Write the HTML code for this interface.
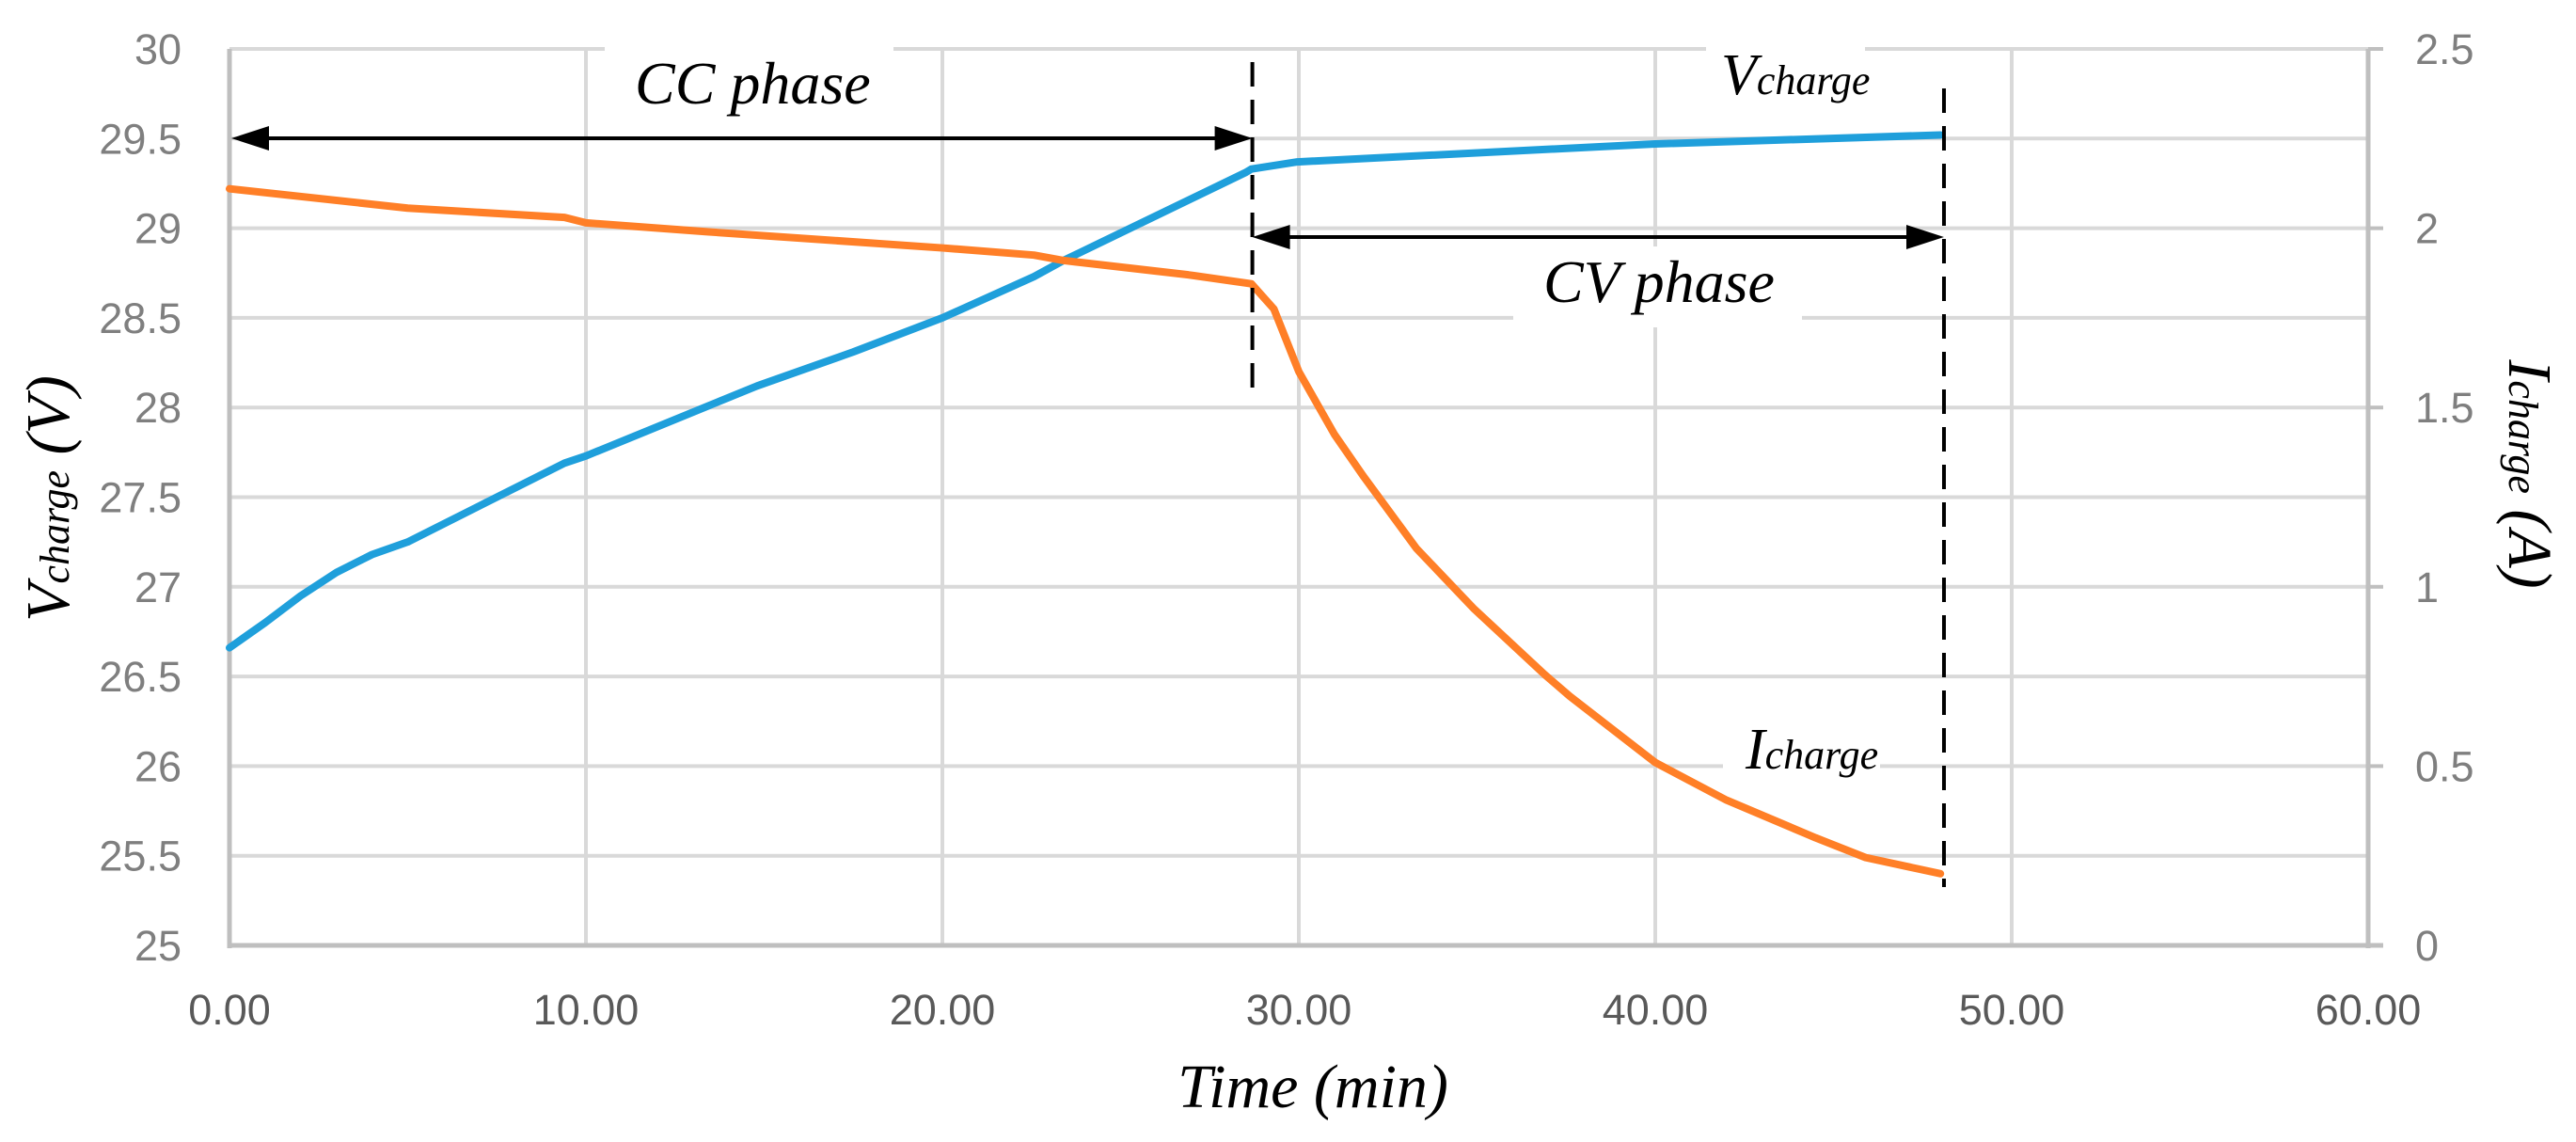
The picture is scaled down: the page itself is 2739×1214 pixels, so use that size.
<!DOCTYPE html>
<html><head><meta charset="utf-8"><style>
html,body{margin:0;padding:0;background:#fff;}
svg{display:block;}
.tick{font-family:"Liberation Sans",sans-serif;font-size:45px;fill:#7f7f7f;}
.xtick{font-family:"Liberation Sans",sans-serif;font-size:45px;fill:#595959;}
.ann{font-family:"Liberation Serif",serif;font-style:italic;fill:#000;}
</style></head><body>
<svg id="chart" width="2739" height="1214" viewBox="0 0 2739 1214" xmlns="http://www.w3.org/2000/svg">
<g id="grid"></g>
<g id="axes"></g>
<g id="boxes"></g>
<g id="series"></g>
<g id="annot"></g>
<text class="ann" x="1396" y="1177" font-size="66" text-anchor="middle">Time (min)</text>
<text class="ann" transform="translate(73,530) rotate(-90)" font-size="66" text-anchor="middle">V<tspan font-size="44">charge</tspan> (V)</text>
<text class="ann" transform="translate(2668,504) rotate(90)" font-size="66" text-anchor="middle">I<tspan font-size="44">charge</tspan> (A)</text>
</svg>
<script>
const timeV = [0,1,2,3,4,5,7.2,9.4,10,14.8,17.5,20,22.57,23.4,28.5,28.67,29.96,40,48];
const voltage = [26.66,26.8,26.95,27.08,27.18,27.25,27.47,27.69,27.73,28.12,28.31,28.5,28.73,28.82,29.31,29.33,29.37,29.47,29.52];
const timeI = [0,5,9.4,10,13.4,20,22.57,23.4,26.9,28.67,29.3,30,31,31.8,33.3,34.9,36.9,37.6,40,42,44.5,45.9,48];
const current = [2.11,2.056,2.03,2.015,1.99,1.945,1.925,1.91,1.87,1.845,1.775,1.6,1.425,1.31,1.107,0.94,0.755,0.695,0.51,0.405,0.30,0.245,0.2];
const xTicks = [0,10,20,30,40,50,60];
const xTickLabels = ["0.00","10.00","20.00","30.00","40.00","50.00","60.00"];
const yLeftTicks = [25,25.5,26,26.5,27,27.5,28,28.5,29,29.5,30];
const yRightTickLabels = ["0","","0.5","","1","","1.5","","2","","2.5"];
const ccEnd = 28.67, cvEnd = 48.1;

const NS="http://www.w3.org/2000/svg";
const X0=244,X1=2518,Y0=1005,Y1=52;
const sx=t=>X0+(t-0)/60*(X1-X0);
const syL=v=>Y0-(v-25)/5*(Y0-Y1);
const syR=a=>Y0-a/2.5*(Y0-Y1);
function mk(tag,attrs,parent){const e=document.createElementNS(NS,tag);for(const k in attrs)e.setAttribute(k,attrs[k]);parent.appendChild(e);return e;}
const grid=document.getElementById('grid'),axes=document.getElementById('axes'),boxes=document.getElementById('boxes'),series=document.getElementById('series'),annot=document.getElementById('annot');

yLeftTicks.forEach((v,i)=>{
  const y=syL(v);
  const g=mk('line',{x1:X0,x2:X1,y1:y,y2:y,stroke:'#d9d9d9','stroke-width':4},grid);
  
  
  const t=mk('text',{x:193,y:y+16,'text-anchor':'end',class:'tick'},axes);
  t.textContent=String(v);
  
  
  if(yRightTickLabels[i]){
    const tk=mk('line',{x1:X1,x2:X1+16,y1:y,y2:y,stroke:'#bfbfbf','stroke-width':4},axes);
    
    
    const r=mk('text',{x:2568,y:y+16,'text-anchor':'start',class:'tick'},axes);
    r.textContent=yRightTickLabels[i];
    
    
  }
});
xTicks.forEach((t,i)=>{
  const x=sx(t);
  if(i>0&&i<xTicks.length-1){
    const g=mk('line',{x1:x,x2:x,y1:Y1,y2:Y0,stroke:'#d9d9d9','stroke-width':4},grid);
    
    
  }
  const l=mk('text',{x:x,y:1089,'text-anchor':'middle',class:'xtick'},axes);
  l.textContent=xTickLabels[i];
  
  
});
const la=mk('line',{x1:X0,x2:X0,y1:Y1,y2:Y0+3,stroke:'#bfbfbf','stroke-width':5},axes);


const ra=mk('line',{x1:X1,x2:X1,y1:Y1,y2:Y0+3,stroke:'#bfbfbf','stroke-width':5},axes);


const ba=mk('line',{x1:X0-2,x2:X1+16,y1:Y0,y2:Y0,stroke:'#bfbfbf','stroke-width':5},axes);



[[643,40,307,24],[1814,40,169,24],[1609,262,307,86],[1832,780,167,60]].forEach(b=>{
  const r=mk('rect',{x:b[0],y:b[1],width:b[2],height:b[3],fill:'#fff'},boxes);
  
  
});

const vp=mk('polyline',{points:timeV.map((t,i)=>sx(t)+','+syL(voltage[i])).join(' '),fill:'none',stroke:'#1f9fdb','stroke-width':8,'stroke-linejoin':'round','stroke-linecap':'round'},series);


const ip=mk('polyline',{points:timeI.map((t,i)=>sx(t)+','+syR(current[i])).join(' '),fill:'none',stroke:'#ff7f27','stroke-width':8,'stroke-linejoin':'round','stroke-linecap':'round'},series);



const xk=sx(ccEnd)+1, xe=sx(cvEnd);
const d1=mk('line',{x1:xk,x2:xk,y1:66,y2:412,stroke:'#000','stroke-width':4,'stroke-dasharray':'26,14'},annot);


const d2=mk('line',{x1:xe,x2:xe,y1:94,y2:943,stroke:'#000','stroke-width':4,'stroke-dasharray':'26,14'},annot);


function arrow(xa,xb,y,name){
  const g=mk('g',{},annot);
  
  
  mk('line',{x1:xa+30,x2:xb-30,y1:y,y2:y,stroke:'#000','stroke-width':4},g);
  mk('polygon',{points:`${xa},${y} ${xa+40},${y-13} ${xa+40},${y+13}`,fill:'#000'},g);
  mk('polygon',{points:`${xb},${y} ${xb-40},${y-13} ${xb-40},${y+13}`,fill:'#000'},g);
}
arrow(X0+2,xk,147,'cc-phase-arrow');
arrow(xk,xe,252,'cv-phase-arrow');
function label(txt,sub,x,y,size,name){
  const t=mk('text',{x:x,y:y,class:'ann','font-size':size},annot);
  
  
  t.textContent=txt;
  if(sub){const s=mk('tspan',{'font-size':44},t);s.textContent=sub;}
}
label('CC phase','',675,110,64,'cc-phase-label');
label('CV phase','',1641,321,64,'cv-phase-label');
label('V','charge',1830,100,62,'voltage-series-label');
label('I','charge',1856,817,62,'current-series-label');
</script>
</body></html>
